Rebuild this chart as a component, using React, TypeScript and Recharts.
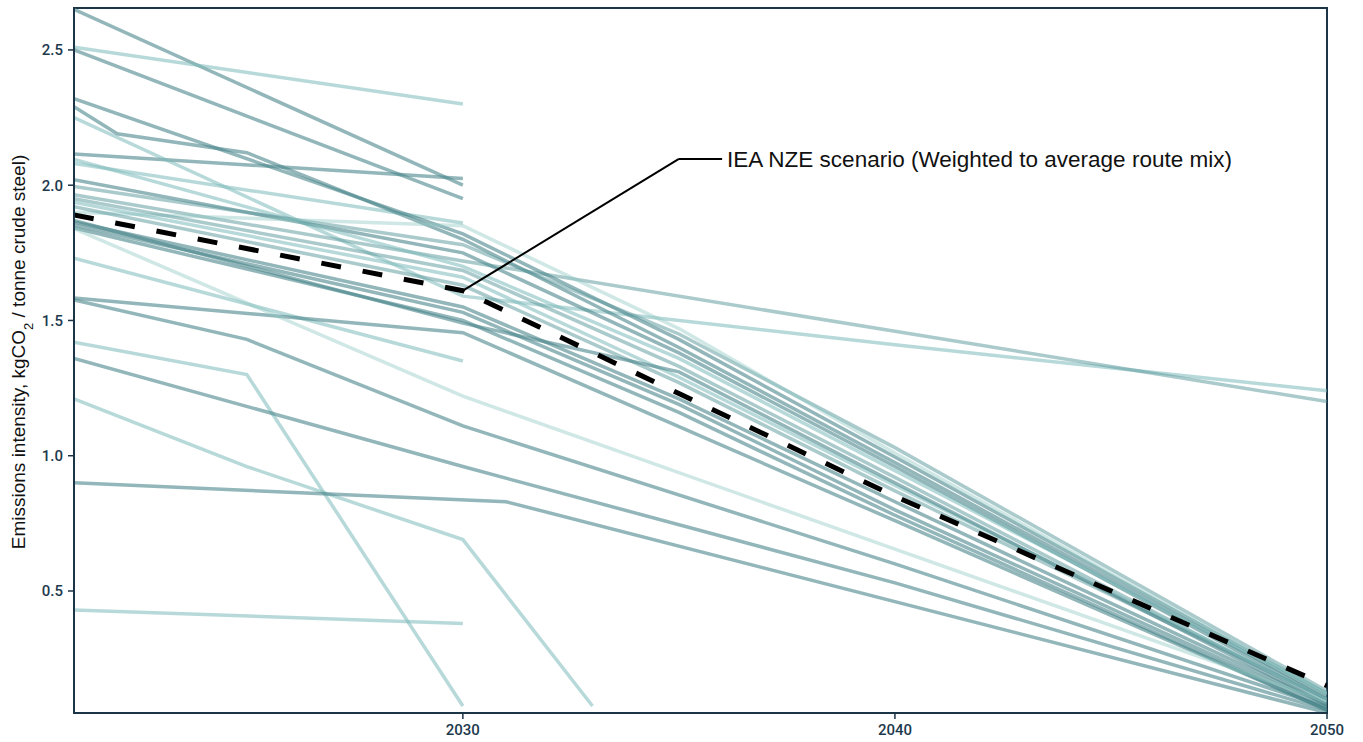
import React from 'react';
import { LineChart, Line, XAxis, YAxis, ReferenceLine, ReferenceDot, ReferenceArea } from 'recharts';

// Years at which pathway values are given (null = no value at that year)
const YEARS = [2021, 2022, 2025, 2030, 2031, 2033, 2035, 2040, 2050];
const X_TICKS = [2030, 2040, 2050];
const Y_TICKS = [0.5, 1.0, 1.5, 2.0, 2.5];
const _ = null;

// Company pathways (kgCO2 / tonne crude steel)
const company01 = [2.65, _, _, 2.0, _, _, _, _, _];
const company02 = [2.51, _, _, 2.3, _, _, _, _, _];
const company03 = [2.5, _, _, 1.95, _, _, _, _, _];
const company04 = [2.115, _, _, 2.025, _, _, _, _, _];
const company05 = [2.08, _, _, 1.86, _, _, _, _, _];
const company06 = [1.73, _, _, 1.35, _, _, _, _, _];
const company07 = [1.42, _, 1.3, 0.075, _, _, _, _, _];
const company08 = [0.43, _, _, 0.38, _, _, _, _, _];
const company09 = [1.21, _, 0.96, 0.69, _, 0.075, _, _, _];
const company10 = [2.25, _, _, 1.59, _, _, _, 1.41, 1.24];
const company11 = [1.965, _, _, 1.72, _, _, _, 1.46, 1.2];
const company12 = [2.32, _, _, 1.82, _, _, 1.43, 0.995, 0.12];
const company13 = [2.29, 2.19, 2.12, 1.8, _, _, 1.4, 0.975, 0.11];
const company14 = [2.02, _, _, 1.75, _, _, 1.38, 0.96, 0.1];
const company15 = [2.095, _, _, 1.7, _, _, 1.36, 0.945, 0.12];
const company16 = [1.995, _, _, 1.78, _, _, 1.45, 1.03, 0.13];
const company17 = [1.9, _, _, 1.85, _, _, 1.47, 1.01, 0.12];
const company18 = [1.95, _, _, 1.685, _, _, 1.33, 0.92, 0.09];
const company19 = [1.937, _, _, 1.66, _, _, 1.29, 0.89, 0.1];
const company20 = [1.92, _, _, 1.63, _, _, 1.27, 0.87, 0.1];
const company21 = [1.864, _, _, 1.55, _, _, 1.21, 0.83, 0.08];
const company22 = [1.853, _, _, 1.53, _, _, 1.19, 0.8, 0.07];
const company23 = [1.842, _, _, 1.5, _, _, 1.16, 0.78, 0.06];
const company24 = [1.87, _, _, 1.49, _, _, 1.31, 0.9, 0.08];
const company25 = [1.583, _, _, 1.455, _, _, _, 0.76, 0.06];
const company26 = [1.576, _, 1.43, 1.11, _, _, _, 0.6, 0.07];
const company27 = [1.36, _, _, 0.96, _, _, _, 0.53, 0.06];
const company28 = [0.9, _, _, _, 0.83, _, _, _, 0.05];
const company29 = [1.84, _, _, 1.22, _, _, _, 0.655, 0.09];

const COMPANIES = [
  company01, company02, company03, company04, company05, company06, company07, company08,
  company09, company10, company11, company12, company13, company14, company15, company16,
  company17, company18, company19, company20, company21, company22, company23, company24,
  company25, company26, company27, company28, company29,
];
// shade class per company: 0 dark, 1 medium, 2 light, 3 lightest
const COMPANY_SHADES = [0, 2, 0, 0, 2, 2, 2, 2, 2, 2, 1, 0, 0, 0, 2, 1, 3, 1, 2, 1, 0, 0, 0, 0, 0, 0, 0, 0, 3];

// IEA NZE scenario (weighted to average route mix)
const IEA_NZE = [1.89, _, _, 1.61, _, _, 1.23, 0.85, 0.15];
const ANNOTATION = 'IEA NZE scenario (Weighted to average route mix)';
const ANNOT_ELBOW = { x: 2035, y: 2.097 };
const ANNOT_END = { x: 2036, y: 2.097 };

const SHADE_STYLE = [
  { stroke: '#4a858a', opacity: 0.6 },
  { stroke: '#5e9a9e', opacity: 0.52 },
  { stroke: '#7dbab9', opacity: 0.55 },
  { stroke: '#8cc6c2', opacity: 0.42 },
];

const NAVY = '#1b3446';

const data = YEARS.map((year, i) => {
  const row: any = { year, iea: IEA_NZE[i] };
  COMPANIES.forEach((s, k) => {
    row['c' + k] = s[i];
  });
  return row;
});

const YLabel = () => (
  <text
    transform="translate(25, 352) rotate(-90)"
    textAnchor="middle"
    fontFamily="'Liberation Sans', Arial, sans-serif"
    fontSize={19}
    fill="#111"
  >
    Emissions intensity, kgCO<tspan baselineShift="sub" fontSize={13}>2</tspan>
    <tspan> / tonne crude steel)</tspan>
  </text>
);

const AnnotLabel = (props: any) => {
  const vb = props.viewBox || {};
  return (
    <text
      x={(vb.x || 0) + 5}
      y={(vb.y || 0) + 8}
      fontFamily="'Liberation Sans', Arial, sans-serif"
      fontSize={22.5}
      fill="#111"
    >
      {ANNOTATION}
    </text>
  );
};

export default function App() {
  const tickStyle = { fill: '#1d3a4d', fontSize: 15, fontFamily: 'Roboto, sans-serif', fontWeight: 500 };
  return (
    <div style={{ position: 'absolute', left: 0, top: 0, width: 1363, height: 742, background: '#fff' }}>
      <LineChart width={1363} height={742} data={data} margin={{ top: 8, right: 36, bottom: 0, left: 0 }}>
        <XAxis
          dataKey="year"
          type="number"
          domain={[2021, 2050]}
          allowDataOverflow
          ticks={X_TICKS}
          height={29}
          tick={tickStyle}
          tickSize={6}
          tickMargin={5}
          tickLine={{ stroke: NAVY, strokeWidth: 1.5 }}
          axisLine={{ stroke: NAVY, strokeWidth: 2 }}
        />
        <YAxis
          type="number"
          domain={[0.049, 2.655]}
          allowDataOverflow
          ticks={Y_TICKS}
          width={74}
          tick={tickStyle}
          tickSize={6}
          tickMargin={5}
          tickFormatter={(v: number) => v.toFixed(1)}
          tickLine={{ stroke: NAVY, strokeWidth: 1.5 }}
          axisLine={{ stroke: NAVY, strokeWidth: 2 }}
          label={<YLabel />}
        />
        {COMPANIES.map((_s, k) => {
          const st = SHADE_STYLE[COMPANY_SHADES[k]];
          return (
            <Line
              key={'c' + k}
              dataKey={'c' + k}
              type="linear"
              stroke={st.stroke}
              strokeOpacity={st.opacity}
              strokeWidth={3.5}
              dot={false}
              activeDot={false}
              connectNulls
              isAnimationActive={false}
            />
          );
        })}
        <Line
          dataKey="iea"
          type="linear"
          stroke="#000"
          strokeWidth={5}
          strokeDasharray="20 22"
          dot={false}
          activeDot={false}
          connectNulls
          isAnimationActive={false}
        />
        <ReferenceLine
          segment={[{ x: 2030, y: IEA_NZE[3] as number }, ANNOT_ELBOW]}
          stroke="#000"
          strokeWidth={2}
        />
        <ReferenceLine segment={[ANNOT_ELBOW, ANNOT_END]} stroke="#000" strokeWidth={2} />
        <ReferenceDot x={ANNOT_END.x} y={ANNOT_END.y} r={0} fill="none" stroke="none" label={<AnnotLabel />} />
        <ReferenceArea x1={2021} x2={2050} y1={0.049} y2={2.655} fill="none" stroke={NAVY} strokeWidth={2} />
      </LineChart>
    </div>
  );
}
